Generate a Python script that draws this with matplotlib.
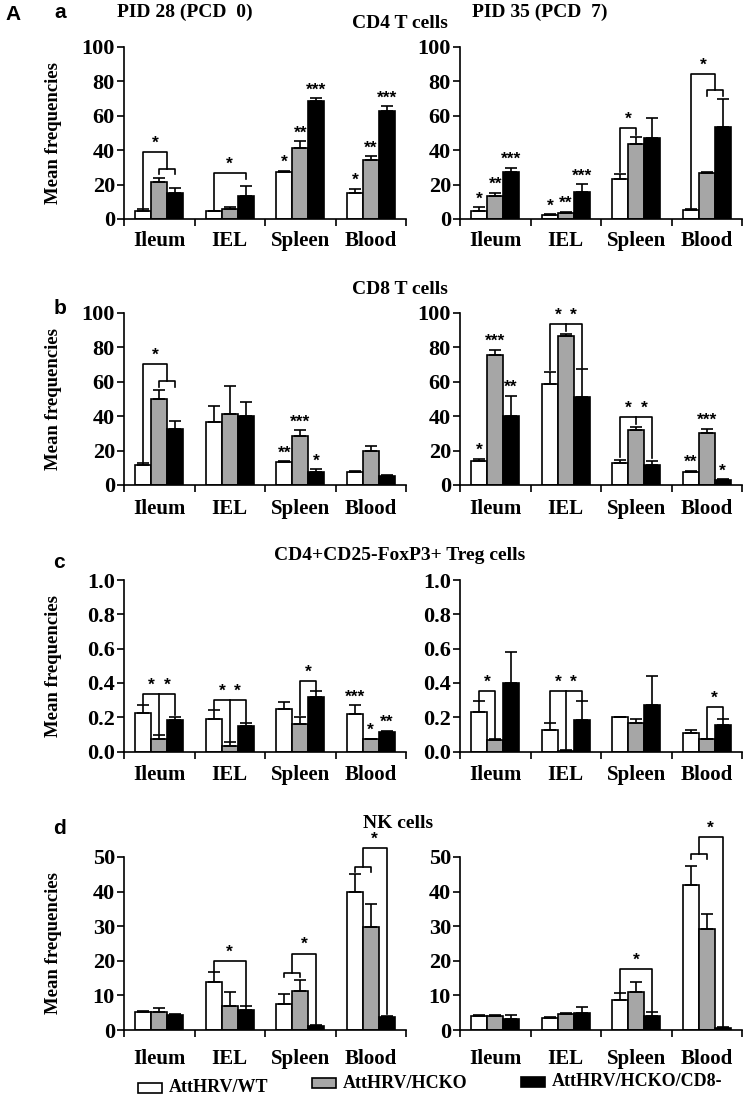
import numpy as np
import matplotlib
matplotlib.use("Agg")
import matplotlib.pyplot as plt
from matplotlib.patches import Rectangle

# ---------------- data ----------------
categories = ["Ileum", "IEL", "Spleen", "Blood"]
series_names = ["AttHRV/WT", "AttHRV/HCKO", "AttHRV/HCKO/CD8-"]
series_colors = ["white", "#a6a6a6", "black"]

# CD4 T cells
cd4_pid28_means = [[4.6, 4.4, 27.0, 15.0], [21.3, 5.8, 41.0, 34.0], [15.3, 13.5, 68.5, 62.5]]
cd4_pid28_errs = [[1.0, 0.4, 1.0, 2.5], [2.7, 1.2, 4.0, 2.5], [2.5, 5.5, 1.5, 3.0]]
cd4_pid35_means = [[4.8, 2.1, 23.0, 5.2], [13.5, 3.7, 43.5, 26.5], [27.3, 15.9, 47.2, 53.6]]
cd4_pid35_errs = [[2.0, 0.6, 3.0, 0.6], [1.8, 0.6, 4.3, 0.5], [2.5, 4.2, 11.6, 15.8]]
# CD8 T cells
cd8_pid28_means = [[11.5, 36.5, 13.2, 7.4], [49.9, 41.4, 28.5, 20.0], [32.4, 40.2, 7.4, 5.2]]
cd8_pid28_errs = [[1.5, 9.5, 0.6, 0.6], [5.1, 15.9, 3.2, 2.9], [4.9, 7.8, 1.7, 0.6]]
cd8_pid35_means = [[14.0, 58.6, 13.0, 7.4], [75.7, 86.4, 31.7, 30.1], [40.2, 50.9, 11.7, 2.9]]
cd8_pid35_errs = [[1.3, 7.0, 1.6, 0.8], [2.9, 1.4, 1.9, 2.7], [11.6, 16.5, 2.3, 0.4]]
# Treg cells
treg_pid28_means = [[0.227, 0.19, 0.247, 0.22], [0.073, 0.031, 0.16, 0.07], [0.184, 0.149, 0.316, 0.113]]
treg_pid28_errs = [[0.044, 0.053, 0.039, 0.049], [0.023, 0.022, 0.044, 0.005], [0.02, 0.02, 0.035, 0.007]]
treg_pid35_means = [[0.233, 0.125, 0.2, 0.106], [0.067, 0.005, 0.169, 0.07], [0.4, 0.184, 0.27, 0.155]]
treg_pid35_errs = [[0.059, 0.04, 0.004, 0.019], [0.003, 0.003, 0.021, 0.005], [0.18, 0.108, 0.17, 0.033]]
# NK cells
nk_pid28_means = [[5.3, 13.9, 7.4, 40.0], [5.2, 6.8, 11.3, 29.9], [4.35, 5.7, 1.2, 3.8]]
nk_pid28_errs = [[0.3, 2.8, 2.9, 5.2], [1.3, 4.2, 3.2, 6.6], [0.25, 1.1, 0.15, 0.3]]
nk_pid35_means = [[4.15, 3.6, 8.7, 42.0], [4.15, 4.5, 11.1, 29.2], [3.1, 4.8, 4.1, 0.6]]
nk_pid35_errs = [[0.25, 0.2, 1.9, 5.3], [0.25, 0.3, 2.9, 4.2], [1.1, 1.8, 1.2, 0.2]]

# significance stars above individual bars: per category -> per series
cd4_pid28_stars = [["", "", ""], ["", "", ""], ["*", "**", "***"], ["*", "**", "***"]]
cd4_pid35_stars = [["*", "**", "***"], ["*", "**", "***"], ["", "", ""], ["", "", ""]]
cd8_pid28_stars = [["", "", ""], ["", "", ""], ["**", "***", "*"], ["", "", ""]]
cd8_pid35_stars = [["*", "***", "**"], ["", "", ""], ["", "", ""], ["**", "***", "*"]]
treg_pid28_stars = [["", "", ""], ["", "", ""], ["", "", ""], ["***", "*", "**"]]
empty_stars = [["", "", ""]] * 4

# brackets: (category, slot_left, slot_right, height, left_leg_end, right_leg_end, text, mid_slot, mid_end)
cd4_pid28_brackets = [(0, 1, 2, 29, 26, 26, "", None, None),
                      (0, 0, 1.5, 39, 6.5, 29, "*", None, None),
                      (1, 0, 2, 26.5, 5.5, 23, "*", None, None)]
cd4_pid35_brackets = [(2, 0, 1, 52.6, 27, 48.5, "*", None, None),
                      (3, 1, 2, 75, 71.5, 71.5, "", None, None),
                      (3, 0, 1.5, 84, 6.5, 75, "*", None, None)]
cd8_pid28_brackets = [(0, 1, 2, 60.2, 57, 57, "", None, None),
                      (0, 0, 1.5, 70.3, 13.5, 60.2, "*", None, None)]
cd8_pid35_brackets = [(1, 0, 2, 93.6, 67, 68, "split", 1, 89.5),
                      (2, 0, 2, 39.6, 16, 15.5, "split", 1, 35.5)]
treg_pid28_brackets = [(0, 0, 2, 0.337, 0.275, 0.21, "split", 1, 0.1),
                       (1, 0, 2, 0.298, 0.245, 0.17, "split", 1, 0.055),
                       (2, 1, 2, 0.41, 0.21, 0.355, "*", None, None)]
treg_pid35_brackets = [(0, 0, 1, 0.351, 0.295, 0.075, "*", None, None),
                       (1, 0, 2, 0.351, 0.17, 0.295, "split", 1, 0.012),
                       (3, 1, 2, 0.257, 0.08, 0.19, "*", None, None)]
nk_pid28_brackets = [(1, 0, 2, 20, 16.8, 7.0, "*", None, None),
                     (2, 0, 1, 16.6, 15.3, 15.3, "", None, None),
                     (2, 0.5, 2, 22.1, 16.6, 1.6, "*", None, None),
                     (3, 0, 1, 47.1, 45.7, 45.7, "", None, None),
                     (3, 0.5, 2, 52.5, 47.1, 4.5, "*", None, None)]
nk_pid35_brackets = [(2, 0, 2, 17.6, 10.8, 5.5, "*", None, None),
                     (3, 0, 1, 51, 49.5, 49.5, "", None, None),
                     (3, 0.5, 2, 55.7, 51, 1.0, "*", None, None)]

# ---------------- style ----------------
SERIF = "Liberation Serif"
SANS = "Liberation Sans"
BW = 0.225
LW = 1.2
STAR_SIZE = 12.5

fig = plt.figure(figsize=(7.5, 11), dpi=100)
W, H = 750.0, 1100.0


def axes_at(x_left, y_top, y_bottom, width=282):
    return fig.add_axes([x_left / W, 1 - y_bottom / H, width / W, (y_bottom - y_top) / H])


def xpos(cat, slot):
    return cat + 0.5 + (slot - 1) * BW


def star(ax, x, y, s, dy=1):
    ax.annotate(s, (x, y), xytext=(0, dy), textcoords="offset points",
                ha="center", va="bottom", fontsize=STAR_SIZE, fontweight="bold",
                family=SANS, annotation_clip=False)


def draw_panel(ax, means, errs, ymax, yticks, fmt, stars, brackets, show_ylabel, label_off):
    x = np.arange(len(categories)) + 0.5
    for i in range(3):
        xs = x + (i - 1) * BW
        m = np.array(means[i])
        e = np.array(errs[i])
        ax.bar(xs, m, BW, color=series_colors[i], edgecolor="black", linewidth=LW, zorder=2)
        ax.errorbar(xs, m, yerr=[np.zeros_like(e), e], fmt="none", ecolor="black",
                    elinewidth=LW, capsize=4, capthick=LW, zorder=3)
        for c in range(len(categories)):
            if stars[c][i]:
                star(ax, xs[c], m[c] + e[c], stars[c][i], 0.5)
    for (c, sl, sr, h, dl, dr, txt, sm, dm) in brackets:
        xl, xr = xpos(c, sl), xpos(c, sr)
        ax.plot([xl, xl, xr, xr], [dl, h, h, dr], color="black", lw=LW, clip_on=False, zorder=4)
        if sm is not None:
            xm = xpos(c, sm)
            ax.plot([xm, xm], [h, dm], color="black", lw=LW, clip_on=False, zorder=4)
        if txt == "split":
            xm = xpos(c, sm)
            star(ax, (xl + xm) / 2, h, "*")
            star(ax, (xm + xr) / 2, h, "*")
        elif txt:
            star(ax, (xl + xr) / 2, h, txt)
    ax.set_xlim(0, len(categories))
    ax.set_ylim(0, ymax)
    ax.set_xticks(np.arange(len(categories) + 1))
    ax.set_xticklabels([])
    ax.set_yticks(yticks)
    ax.set_yticklabels([fmt.format(t) for t in yticks], fontsize=16, fontweight="bold", family=SERIF)
    ax.tick_params(axis="both", direction="out", length=5, width=LW, pad=1.5)
    for sp in ("top", "right"):
        ax.spines[sp].set_visible(False)
    for sp in ("left", "bottom"):
        ax.spines[sp].set_linewidth(LW)
    for c, name in enumerate(categories):
        ax.annotate(name, (c + 0.5, 0), xycoords=("data", "axes fraction"), xytext=(0, label_off),
                    textcoords="offset points", ha="center", va="center", fontsize=15,
                    fontweight="bold", family=SERIF, annotation_clip=False)
    if show_ylabel:
        ax.set_ylabel("Mean frequencies", fontsize=13.5, fontweight="bold", family=SERIF)
        ax.yaxis.set_label_coords(-62 / 282, 0.5)


LX, RX = 124, 460
t20 = [0, 20, 40, 60, 80, 100]
t02 = [0.0, 0.2, 0.4, 0.6, 0.8, 1.0]
t10 = [0, 10, 20, 30, 40, 50]

rows = [
    (46.7, 219.0, cd4_pid28_means, cd4_pid28_errs, cd4_pid28_stars, cd4_pid28_brackets,
     cd4_pid35_means, cd4_pid35_errs, cd4_pid35_stars, cd4_pid35_brackets, 100, t20, "{:d}", -16),
    (313.0, 485.0, cd8_pid28_means, cd8_pid28_errs, cd8_pid28_stars, cd8_pid28_brackets,
     cd8_pid35_means, cd8_pid35_errs, cd8_pid35_stars, cd8_pid35_brackets, 100, t20, "{:d}", -17.5),
    (580.0, 751.5, treg_pid28_means, treg_pid28_errs, treg_pid28_stars, treg_pid28_brackets,
     treg_pid35_means, treg_pid35_errs, empty_stars, treg_pid35_brackets, 1.0, t02, "{:.1f}", -17),
    (857.0, 1030.0, nk_pid28_means, nk_pid28_errs, empty_stars, nk_pid28_brackets,
     nk_pid35_means, nk_pid35_errs, empty_stars, nk_pid35_brackets, 50, t10, "{:d}", -21),
]
for (yt, yb, lm, le, ls, lb, rm, re, rs, rb, ymax, ticks, fmt, loff) in rows:
    axl = axes_at(LX, yt, yb)
    draw_panel(axl, lm, le, ymax, ticks, fmt, ls, lb, True, loff)
    axr = axes_at(RX, yt, yb)
    draw_panel(axr, rm, re, ymax, ticks, fmt, rs, rb, False, loff)


def ftext(x, y, s, size, family=SERIF, **kw):
    fig.text(x / W, 1 - y / H, s, fontsize=size, fontweight="bold", family=family,
             ha="center", va="center", **kw)


ftext(13, 15, "A", 15, SANS)
ftext(60, 13, "a", 15, SANS)
ftext(60, 308, "b", 15, SANS)
ftext(59, 563, "c", 15, SANS)
ftext(60, 829, "d", 15, SANS)
ftext(185, 12, "PID 28 (PCD  0)", 14)
ftext(540, 12, "PID 35 (PCD  7)", 14)
ftext(400, 24, "CD4 T cells", 14)
ftext(400, 290, "CD8 T cells", 14)
ftext(400, 555, "CD4+CD25-FoxP3+ Treg cells", 14)
ftext(398, 823, "NK cells", 14)

# legend (the first entry sits slightly lower, as in the original)
leg_items = [(138, 1088, series_names[0], series_colors[0]),
             (312, 1083, series_names[1], series_colors[1]),
             (521, 1082, series_names[2], series_colors[2])]
for x0, yc, name, col in leg_items:
    fig.patches.append(Rectangle((x0 / W, 1 - (yc + 5) / H), 24 / W, 10 / H,
                                 transform=fig.transFigure,
                                 facecolor=col, edgecolor="black", linewidth=LW))
    fig.text((x0 + 31) / W, 1 - yc / H, name, fontsize=13, fontweight="bold", family=SERIF,
             ha="left", va="center")

fig.savefig("out.png", dpi=100)
